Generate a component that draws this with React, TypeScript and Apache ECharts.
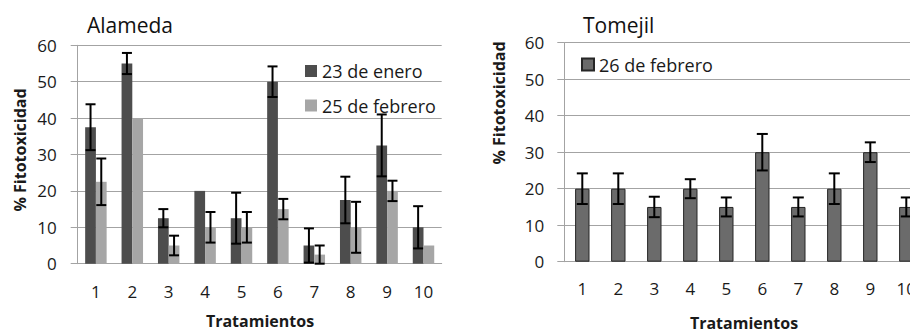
import React, { useEffect, useRef } from "react";
import * as echarts from "echarts";

const categories = ["1", "2", "3", "4", "5", "6", "7", "8", "9", "10"];
const alamedaEnero = [37.5, 55, 12.5, 20, 12.5, 50, 5, 17.5, 32.5, 10];
const alamedaEneroErr = [6.3, 2.9, 2.5, 0, 7, 4.2, 4.7, 6.4, 8.5, 5.8];
const alamedaFebrero = [22.5, 40, 5, 10, 10, 15, 2.5, 10, 20, 5];
const alamedaFebreroErr = [6.4, 0, 2.7, 4.2, 4.2, 2.8, 2.5, 7, 2.8, 0];
const tomejilFebrero = [20, 20, 15, 20, 15, 30, 15, 20, 30, 15];
const tomejilFebreroErr = [4.2, 4.2, 2.8, 2.6, 2.6, 5, 2.6, 4.2, 2.7, 2.6];
const yTicks = [0, 10, 20, 30, 40, 50, 60];

const FONT = "'Open Sans', sans-serif";
const GRID_COLOR = "#a3a3a3";

function errData(vals: number[], errs: number[]) {
  return vals.map((v, i) => [i, v - errs[i], v + errs[i], errs[i]]);
}

function makeErrRender(offsetFactor: number, capHalf: number) {
  return (params: any, api: any) => {
    const err = api.value(3);
    if (!err) return null;
    const idx = api.value(0);
    const lo = api.coord([idx, api.value(1)]);
    const hi = api.coord([idx, api.value(2)]);
    const bw = api.size([1, 0])[0];
    const x = lo[0] + bw * offsetFactor;
    const style = { stroke: "#000", lineWidth: 2 };
    return {
      type: "group",
      children: [
        { type: "line", shape: { x1: x, y1: lo[1], x2: x, y2: hi[1] }, style },
        { type: "line", shape: { x1: x - capHalf, y1: hi[1], x2: x + capHalf, y2: hi[1] }, style },
        { type: "line", shape: { x1: x - capHalf, y1: lo[1], x2: x + capHalf, y2: lo[1] }, style },
      ],
    };
  };
}

function yAxisCfg(gridIndex: number, margin: number) {
  return {
    type: "value",
    gridIndex,
    min: yTicks[0],
    max: yTicks[yTicks.length - 1],
    interval: 10,
    axisLine: { show: true, lineStyle: { color: GRID_COLOR, width: 1 } },
    axisTick: { show: true, length: 7, lineStyle: { color: GRID_COLOR } },
    splitLine: { show: true, lineStyle: { color: GRID_COLOR, width: 1 } },
    axisLabel: { margin, fontFamily: FONT, fontSize: 17, color: "#1a1a1a" },
  };
}

function xAxisCfg(gridIndex: number, margin: number) {
  return {
    type: "category",
    gridIndex,
    data: categories,
    axisLine: { show: true, lineStyle: { color: GRID_COLOR, width: 1 } },
    axisTick: { show: false },
    axisLabel: { margin, fontFamily: FONT, fontSize: 17, color: "#1a1a1a", interval: 0 },
  };
}

function axisTitle(text: string, x: number, y: number, vertical: boolean) {
  return {
    type: "text",
    x,
    y,
    rotation: vertical ? Math.PI / 2 : 0,
    style: {
      text,
      font: `bold 16px ${FONT}`,
      fill: "#1a1a1a",
      align: "center",
      verticalAlign: "middle",
    },
  };
}

export default function App() {
  const ref = useRef<HTMLDivElement>(null);
  useEffect(() => {
    if (!ref.current) return;
    const chart = echarts.init(ref.current, null, { renderer: "svg" });
    const option: any = {
      animation: false,
      backgroundColor: "#ffffff",
      title: [
        {
          text: "Alameda",
          left: 87,
          top: 14.5,
          padding: 0,
          textStyle: { fontFamily: FONT, fontSize: 21, fontWeight: "normal", color: "#111" },
        },
        {
          text: "Tomejil",
          left: 583,
          top: 14.5,
          padding: 0,
          textStyle: { fontFamily: FONT, fontSize: 21, fontWeight: "normal", color: "#111" },
        },
      ],
      legend: [
        {
          data: ["23 de enero", "25 de febrero"],
          orient: "vertical",
          left: 305,
          top: 62,
          padding: 0,
          icon: "rect",
          itemWidth: 12,
          itemHeight: 12,
          itemGap: 16.5,
          textStyle: { fontFamily: FONT, fontSize: 18, color: "#1a1a1a" },
        },
        {
          data: ["26 de febrero"],
          orient: "vertical",
          left: 581,
          top: 55.5,
          padding: 0,
          icon: "rect",
          itemWidth: 12,
          itemHeight: 12,
          textStyle: { fontFamily: FONT, fontSize: 18, color: "#1a1a1a" },
        },
      ],
      grid: [
        { left: 77.7, top: 45.3, width: 364, height: 218.4, outerBoundsMode: "none", containLabel: false },
        { left: 564.3, top: 42.7, width: 360, height: 219, outerBoundsMode: "none", containLabel: false },
      ],
      xAxis: [xAxisCfg(0, 19.5), xAxisCfg(1, 18)],
      yAxis: [yAxisCfg(0, 21), yAxisCfg(1, 20)],
      graphic: [
        axisTitle("% Fitotoxicidad", 19.5, 150, true),
        axisTitle("% Fitotoxicidad", 499, 103, true),
        axisTitle("Tratamientos", 260, 321, false),
        axisTitle("Tratamientos", 744, 323, false),
      ],
      series: [
        {
          name: "23 de enero",
          type: "bar",
          xAxisIndex: 0,
          yAxisIndex: 0,
          data: alamedaEnero,
          barGap: "0%",
          barCategoryGap: "41%",
          itemStyle: { color: "#4d4d4d" },
        },
        {
          name: "25 de febrero",
          type: "bar",
          xAxisIndex: 0,
          yAxisIndex: 0,
          data: alamedaFebrero,
          barGap: "0%",
          barCategoryGap: "41%",
          itemStyle: { color: "#a6a6a6" },
        },
        {
          type: "custom",
          xAxisIndex: 0,
          yAxisIndex: 0,
          renderItem: makeErrRender(-0.59 / 4, 5),
          data: errData(alamedaEnero, alamedaEneroErr),
          encode: { x: 0, y: [1, 2] },
          z: 10,
          silent: true,
        },
        {
          type: "custom",
          xAxisIndex: 0,
          yAxisIndex: 0,
          renderItem: makeErrRender(0.59 / 4, 5),
          data: errData(alamedaFebrero, alamedaFebreroErr),
          encode: { x: 0, y: [1, 2] },
          z: 10,
          silent: true,
        },
        {
          name: "26 de febrero",
          type: "bar",
          xAxisIndex: 1,
          yAxisIndex: 1,
          data: tomejilFebrero,
          barCategoryGap: "60%",
          itemStyle: { color: "#6b6b6b", borderColor: "#262626", borderWidth: 1 },
        },
        {
          type: "custom",
          xAxisIndex: 1,
          yAxisIndex: 1,
          renderItem: makeErrRender(0, 5.5),
          data: errData(tomejilFebrero, tomejilFebreroErr),
          encode: { x: 0, y: [1, 2] },
          z: 10,
          silent: true,
        },
      ],
    };
    chart.setOption(option);
    return () => chart.dispose();
  }, []);
  return (
    <div
      ref={ref}
      style={{ position: "absolute", left: 0, top: 0, width: 910, height: 329 }}
    />
  );
}
